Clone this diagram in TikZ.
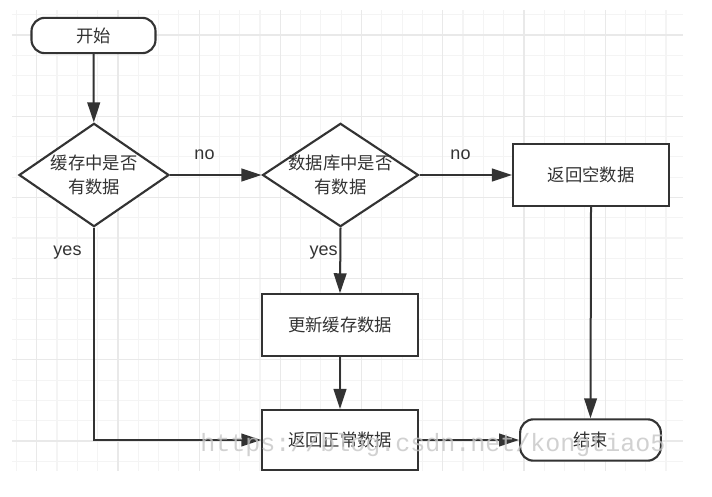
\documentclass[tikz,border=0pt]{standalone}
\usepackage{fontspec}
\setmainfont{Noto Sans CJK SC}
\newfontfamily\latinfont{Liberation Sans}
\newfontfamily\markfont{Liberation Mono}
\usetikzlibrary{shapes.geometric}
\usetikzlibrary{arrows.meta}
\definecolor{ink}{HTML}{333333}
\colorlet{gridminor}{gray!9}
\colorlet{gridmajor}{gray!17}
\tikzset{
  shape box/.style={draw=ink, line width=1.6pt, fill=white, text=ink,
    font=\fontsize{13}{18}\selectfont, inner sep=0pt},
  term/.style={shape box, rectangle, rounded corners=10pt},
  procbox/.style={shape box, rectangle, minimum width=116.5pt, minimum height=46pt},
  decision/.style={shape box, diamond, aspect=1.45},
  dtext/.style={text=ink, font=\fontsize{13}{18}\selectfont, align=center},
  conn/.style={draw=ink, line width=1.5pt, ->},
  lbl/.style={text=ink, font=\latinfont\fontsize{13.5}{16}\selectfont},
  wmark/.style={text=gray!45, opacity=0.8, font=\markfont\fontsize{18.75}{20}\selectfont, inner sep=0pt}
}

\begin{document}
\begin{tikzpicture}[x=0.75pt,y=-0.75pt,>={Triangle[length=15pt,width=9.5pt]}]
    \useasboundingbox (0,0) rectangle (712,496);
    % grid background
    \begin{scope}
      \clip (12,10) rectangle (683,471);
      \foreach \i in {0,...,33}
        \draw[gridminor, line width=0.8pt] ({16.4+20.3*\i},10) -- ++(0,461);
      \foreach \j in {0,...,22}
        \draw[gridminor, line width=0.8pt] (12,{14.7+20.3*\j}) -- ++(671,0);
      \foreach \i in {0,...,8}
        \draw[gridmajor, line width=0.9pt] ({36.7+81.2*\i},10) -- ++(0,461);
      \foreach \j in {0,...,5}
        \draw[gridmajor, line width=0.9pt] (12,{35+81.2*\j}) -- ++(671,0);
    \end{scope}

    % nodes
    \node[term, minimum width=93pt, minimum height=26.5pt] (start) at (93.5,35.5) {开始};
    \node[decision, minimum width=112.5pt, minimum height=77.5pt,
      label={[dtext]center:缓存中是否\\有数据}] (cacheq) at (94,175) {};
    \node[decision, minimum width=117pt, minimum height=77.5pt,
      label={[dtext]center:数据库中是否\\有数据}] (dbq) at (340.5,175) {};
    \node[procbox, minimum width=117pt] (empty) at (591,175) {返回空数据};
    \node[procbox] (update) at (340,325) {更新缓存数据};
    \node[procbox, minimum height=45pt] (normal) at (340,440) {返回正常数据};
    \node[term, minimum width=105.5pt, minimum height=31pt] (finish) at (590.5,440) {结束};

    % connectors
    \draw[conn] (start) -- (cacheq);
    \draw[conn] (cacheq.east) -- (dbq.west);
    \draw[conn] (dbq.east) -- (empty.west);
    \draw[conn] (dbq.south) -- (update.north);
    \draw[conn] (update) -- (normal);
    \draw[conn] (cacheq.south) |- (normal.west);
    \draw[conn] (normal.east) -- (finish.west);
    \draw[conn] (empty.south) -- (finish.north);

    % branch labels
    \node[lbl] (no1) at (204.5,154.5) {no};
    \node[lbl] (no2) at (460.5,154.5) {no};
    \node[lbl] (yes1) at (67.5,252.5) {yes};
    \node[lbl] (yes2) at (323.5,252.5) {yes};

    \node[wmark, anchor=base west] (mark) at (200,451) {https://blog.csdn.net/kongtiao5};
\end{tikzpicture}
\end{document}
